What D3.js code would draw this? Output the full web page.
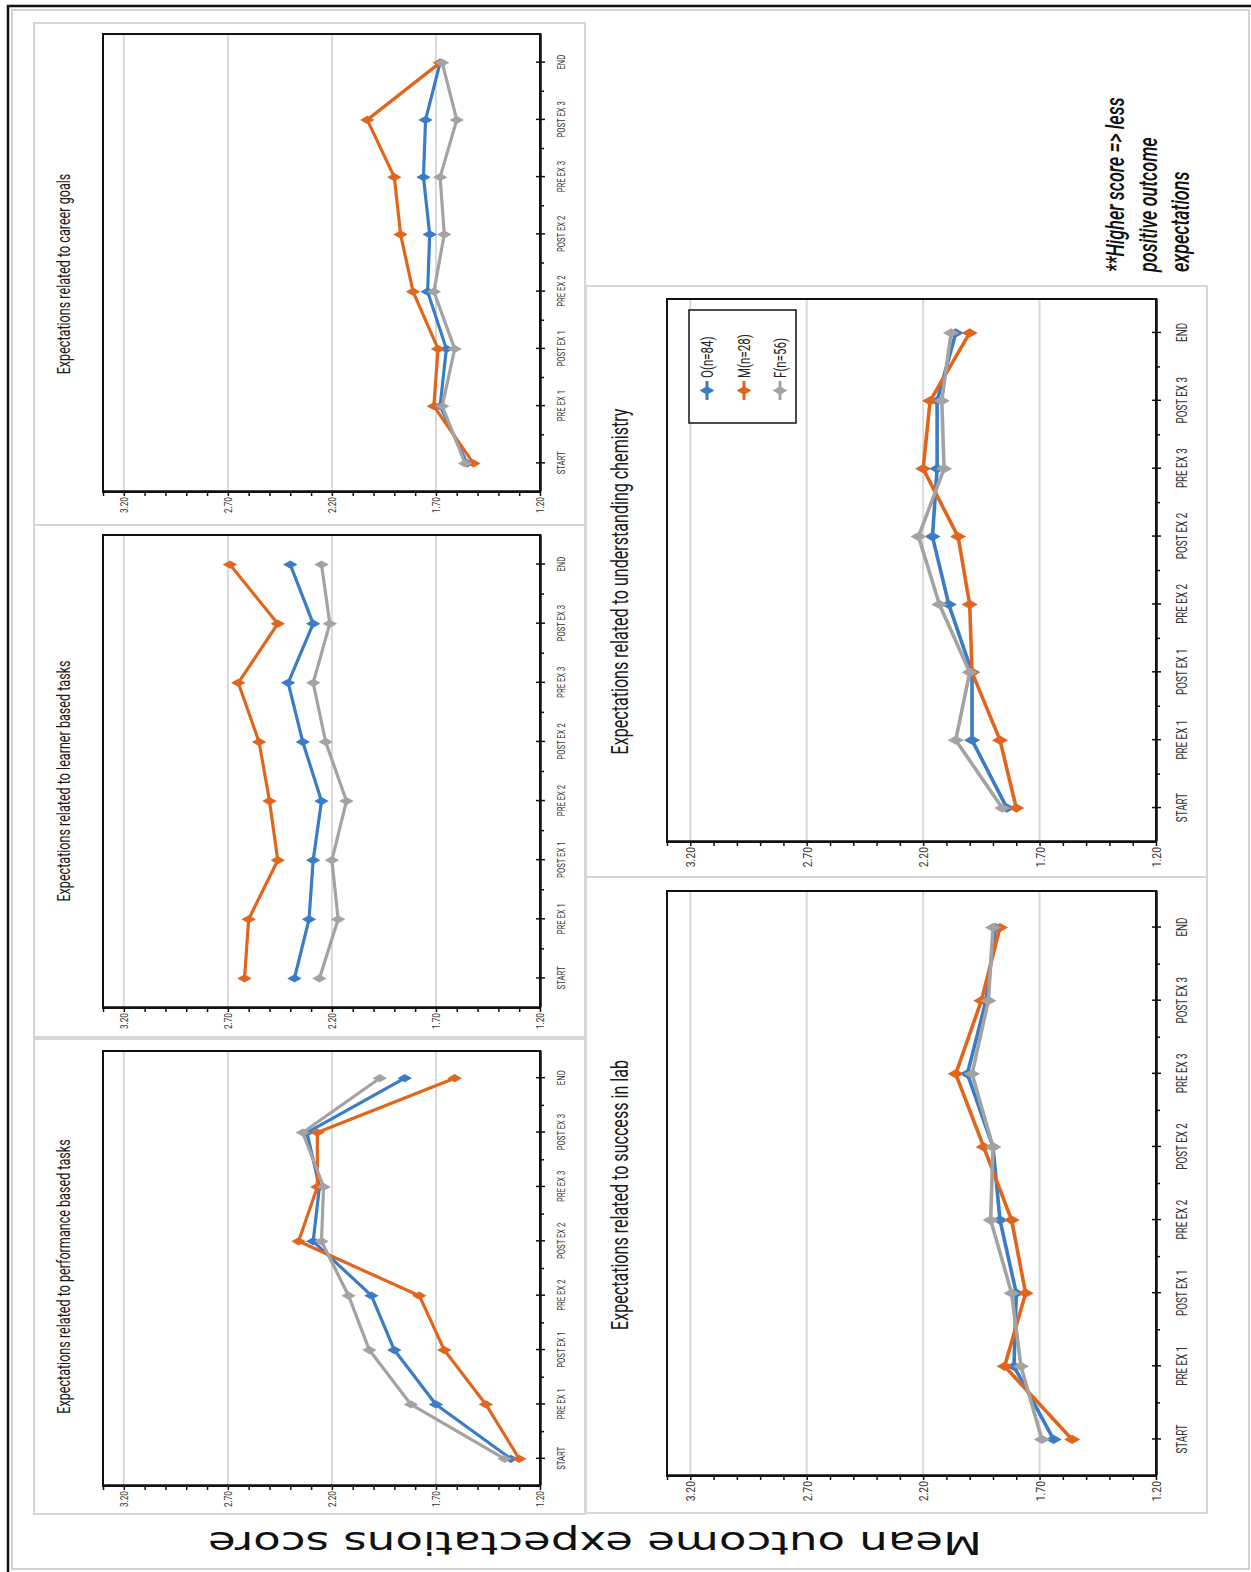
<!DOCTYPE html>
<html>
<head>
<meta charset="utf-8">
<script src="https://cdnjs.cloudflare.com/ajax/libs/d3/7.8.5/d3.min.js"></script>
<style>
  body { margin: 0; background: #fff; }
  svg { display: block; }
</style>
</head>
<body>
<div id="container"></div>
<script>
let w = 1251;
let h = 1572;

// the figure is a landscape chart turned a quarter turn counter-clockwise,
// so everything below is drawn in landscape coordinates (h wide, w tall)
let categories = ["START", "PRE EX 1", "POST EX 1", "PRE EX 2", "POST EX 2", "PRE EX 3", "POST EX 3", "END"];
let groups = ["O(n=84)", "M(n=28)", "F(n=56)"];
let valueTicks = [1.2, 1.3, 1.4, 1.5, 1.6, 1.7, 1.8, 1.9, 2.0, 2.1, 2.2, 2.3, 2.4, 2.5, 2.6, 2.7, 2.8, 2.9, 3.0, 3.1, 3.2, 3.3];
let valueLabels = ["1.20", "1.70", "2.20", "2.70", "3.20"];
let yLabel = "Mean outcome expectations score";
let note = ["**Higher score => less", "positive outcome", "expectations"];

// mean scores per group, START ... END
let performanceO = [1.34, 1.70, 1.90, 2.01, 2.29, 2.26, 2.32, 1.85];
let performanceM = [1.30, 1.46, 1.66, 1.78, 2.36, 2.27, 2.27, 1.61];
let performanceF = [1.37, 1.82, 2.02, 2.12, 2.25, 2.24, 2.34, 1.97];

let learnerO = [2.38, 2.31, 2.29, 2.25, 2.34, 2.41, 2.29, 2.40];
let learnerM = [2.62, 2.60, 2.46, 2.50, 2.55, 2.65, 2.46, 2.69];
let learnerF = [2.26, 2.17, 2.20, 2.13, 2.23, 2.29, 2.21, 2.25];

let careerO = [1.55, 1.68, 1.65, 1.74, 1.73, 1.76, 1.75, 1.68];
let careerM = [1.52, 1.71, 1.69, 1.81, 1.87, 1.90, 2.03, 1.68];
let careerF = [1.56, 1.67, 1.61, 1.71, 1.66, 1.68, 1.60, 1.67];

let successO = [1.64, 1.81, 1.80, 1.87, 1.90, 2.01, 1.93, 1.89];
let successM = [1.56, 1.85, 1.76, 1.82, 1.94, 2.06, 1.95, 1.87];
let successF = [1.69, 1.78, 1.82, 1.91, 1.90, 1.99, 1.92, 1.90];

let chemistryO = [1.84, 1.99, 1.99, 2.09, 2.16, 2.14, 2.14, 2.06];
let chemistryM = [1.80, 1.87, 1.99, 2.00, 2.05, 2.20, 2.17, 2.00];
let chemistryF = [1.86, 2.06, 2.00, 2.13, 2.22, 2.11, 2.12, 2.08];

let colors = ["#3a7cc6", "#e0661d", "#a3a3a3"];
let font = "Roboto, 'Liberation Sans', sans-serif";
// text in the picture is squeezed along its reading direction
let K = 0.7;

// top row uses smaller type than the bottom row
let small = { ty: 70, ts: 18, cs: 11, cy: 25, vs: 11, vk: 0.75, lw: 3.2, ms: 60 };
let big = { ty: 628, ts: 23, cs: 14, cy: 31, vs: 13, vk: 0.8, lw: 3.6, ms: 75 };

let panels = [
  { title: "Expectations related to performance based tasks", series: [performanceO, performanceM, performanceF],
    frame: [58, 34, 533, 585], plot: [86, 103, 521, 540], st: small },
  { title: "Expectations related to learner based tasks", series: [learnerO, learnerM, learnerF],
    frame: [535, 34, 1047, 585], plot: [564, 103, 1037, 540], st: small },
  { title: "Expectations related to career goals", series: [careerO, careerM, careerF],
    frame: [1047, 34, 1549, 585], plot: [1080, 103, 1538, 540], st: small },
  { title: "Expectations related to success in lab", series: [successO, successM, successF],
    frame: [59, 586, 695, 1207], plot: [96, 667, 681, 1156], st: big },
  { title: "Expectations related to understanding chemistry", series: [chemistryO, chemistryM, chemistryF],
    frame: [695, 586, 1286, 1207], plot: [730, 667, 1273, 1156], st: big, legend: true }
];

let svg = d3.select("#container")
  .append("svg")
    .attr("width", w)
    .attr("height", h)
    .style("background-color", "#fff");

// picture border
svg.append("rect")
  .attr("x", 12).attr("y", 10).attr("width", 1237).attr("height", 1559)
  .attr("fill", "none").attr("stroke", "#c4c4c4").attr("stroke-width", 1.5);
svg.append("path")
  .attr("d", "M8," + h + " V6 H" + w)
  .attr("fill", "none").attr("stroke", "#111").attr("stroke-width", 2.5);

let fig = svg.append("g").attr("transform", "translate(0," + h + ") rotate(-90)");

function addText(parent, str, x, y, size, sx, anchor) {
  return parent.append("text")
    .attr("transform", "translate(" + x + "," + y + ") scale(" + sx + ",1)")
    .attr("text-anchor", anchor || "start")
    .style("font-family", font)
    .style("font-size", size + "px")
    .attr("fill", "#222")
    .text(str);
}

function drawPanel(p) {
  let st = p.st;
  let g = fig.append("g").attr("class", "panel");
  let f = p.frame, pl = p.plot;

  g.append("rect")
    .attr("x", f[0]).attr("y", f[1])
    .attr("width", f[2] - f[0]).attr("height", f[3] - f[1])
    .attr("fill", "#fff").attr("stroke", "#d6d6d6").attr("stroke-width", 2);

  let x = d3.scalePoint().domain(categories).range([pl[0], pl[2]]).padding(0.5);
  let y = d3.scaleLinear().domain([1.2, 3.3]).range([pl[3], pl[1]]);

  // gridlines at the labelled values
  g.selectAll(".grid")
    .data(valueLabels.map(Number).filter(function(v){ return v > 1.2; }))
    .join("line")
      .attr("class", "grid")
      .attr("x1", pl[0]).attr("x2", pl[2])
      .attr("y1", function(d){ return y(d); })
      .attr("y2", function(d){ return y(d); })
      .attr("stroke", "#d9d9d9").attr("stroke-width", 2);

  g.append("rect")
    .attr("x", pl[0]).attr("y", pl[1])
    .attr("width", pl[2] - pl[0]).attr("height", pl[3] - pl[1])
    .attr("fill", "none").attr("stroke", "#111").attr("stroke-width", 2);

  // value axis
  let yAxis = d3.axisLeft(y)
    .tickValues(valueTicks)
    .tickSizeInner(4).tickSizeOuter(0)
    .tickFormat(function(d){
      let s = d.toFixed(2);
      return valueLabels.indexOf(s) >= 0 ? s : "";
    });
  let ya = g.append("g").attr("transform", "translate(" + pl[0] + ",0)").call(yAxis);
  ya.select(".domain").attr("stroke", "#111").attr("stroke-width", 2.5);
  ya.selectAll(".tick line").attr("stroke", "#111").attr("stroke-width", 1.5);
  ya.selectAll(".tick text")
    .attr("x", null)
    .attr("dy", "0.35em")
    .attr("transform", "translate(-5,0) scale(" + st.vk + ",1)")
    .style("font-family", font)
    .style("font-size", st.vs + "px")
    .attr("fill", "#333");

  // category axis
  let xAxis = d3.axisBottom(x).tickSizeInner(5).tickSizeOuter(0);
  let xa = g.append("g").attr("transform", "translate(0," + pl[3] + ")").call(xAxis);
  xa.select(".domain").attr("stroke", "#111").attr("stroke-width", 2.5);
  xa.selectAll(".tick line").attr("y1", -4).attr("stroke", "#111").attr("stroke-width", 1.5);
  xa.selectAll(".tick text")
    .attr("y", null).attr("dy", null)
    .attr("transform", "translate(0," + st.cy + ") scale(" + K + ",1)")
    .style("font-family", font)
    .style("font-size", st.cs + "px")
    .attr("fill", "#333");
  // ticks between categories
  g.selectAll(".mid")
    .data(categories.slice(1))
    .join("line")
      .attr("class", "mid")
      .attr("x1", function(d){ return x(d) - x.step() / 2; })
      .attr("x2", function(d){ return x(d) - x.step() / 2; })
      .attr("y1", pl[3]).attr("y2", pl[3] + 4)
      .attr("stroke", "#111").attr("stroke-width", 1.5);

  // series: F is drawn last so it sits on top
  let line = d3.line()
    .x(function(d, i){ return x(categories[i]); })
    .y(function(d){ return y(d); });

  p.series.forEach(function(vals, si){
    g.append("path")
      .datum(vals)
      .attr("d", line)
      .attr("fill", "none")
      .attr("stroke", colors[si])
      .attr("stroke-width", st.lw)
      .attr("stroke-linejoin", "round");
    g.append("g").selectAll("path")
      .data(vals)
      .join("path")
        .attr("d", d3.symbol(d3.symbolDiamond, st.ms))
        .attr("transform", function(d, i){
          return "translate(" + x(categories[i]) + "," + y(d) + ")";
        })
        .attr("fill", colors[si]);
  });

  addText(g, p.title, (f[0] + f[2]) / 2, st.ty, st.ts, K, "middle").attr("fill", "#1a1a1a");

  if (p.legend) {
    let lg = g.append("g");
    lg.append("rect")
      .attr("x", 1149).attr("y", 689).attr("width", 113).attr("height", 107)
      .attr("fill", "#fff").attr("stroke", "#111").attr("stroke-width", 1.5);
    let rowY = [707, 744, 780];
    groups.forEach(function(name, i){
      lg.append("line")
        .attr("x1", 1172).attr("x2", 1191)
        .attr("y1", rowY[i]).attr("y2", rowY[i])
        .attr("stroke", colors[i]).attr("stroke-width", 3);
      lg.append("path")
        .attr("d", d3.symbol(d3.symbolDiamond, 65))
        .attr("transform", "translate(1181.5," + rowY[i] + ")")
        .attr("fill", colors[i]);
      addText(lg, name, 1194, rowY[i] + 5.5, 16.5, K);
    });
  }
}

panels.forEach(drawPanel);

// shared value-axis title
fig.append("text")
  .attr("transform", "translate(40,595) rotate(-90) scale(1.43,1)")
  .attr("text-anchor", "middle")
  .style("font-family", "'DejaVu Sans', Verdana, sans-serif")
  .style("font-size", "31.5px")
  .attr("fill", "#111")
  .text(yLabel);

// note in the free corner
let noteY = [1124, 1157, 1189];
note.forEach(function(s, i){
  addText(fig, s, 1300, noteY[i], 25, 0.72)
    .style("font-style", "italic")
    .style("font-weight", 500)
    .attr("fill", "#111");
});
</script>
</body>
</html>
